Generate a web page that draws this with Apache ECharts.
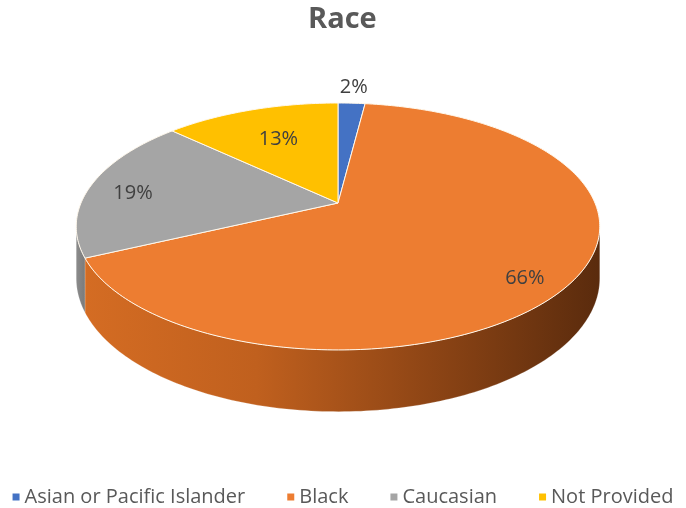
<!DOCTYPE html>
<html>
<head>
<meta charset="utf-8">
<script src="https://cdn.jsdelivr.net/npm/echarts@6/dist/echarts.min.js"></script>
<style>html,body{margin:0;padding:0;background:#fff}#c{width:686px;height:508px}</style>
</head>
<body>
<div id="c"></div>
<script>
// ---- data ----
const categories = ['Asian or Pacific Islander', 'Black', 'Caucasian', 'Not Provided'];
const values = [2, 66, 19, 13];
const labels = ['2%', '66%', '19%', '13%'];

// ---- style / geometry config ----
const topColors = ['#4472C4', '#ED7D31', '#A5A5A5', '#FFC000'];
const sideColors = [
  ['#2F5597', '#2A4A80'],
  ['#D46C23', '#C0601E', '#8E4515', '#5A2B0D'],
  ['#8C8C8C', '#7A7A7A'],
  ['#C89600', '#B08400']
];
const labelR = [1.2, 0.86, 0.815, 0.65];
const labelShift = [0, 5, -3, 0];
const CX = 338, CY = 203, RA = 257, RB = 119, K = 0.19, H = 50;

function proj(r, deg, dz) {
  const t = deg * Math.PI / 180;
  const u = r * Math.sin(t);
  const v = -r * Math.cos(t);
  const f = 1 / (1 - K * v);
  return [CX + RA * u * f, CY + RB * v * f + dz * f];
}
const total = values.reduce((a, b) => a + b, 0);
const starts = [];
{ let acc = 0; values.forEach(v => { starts.push(acc / total * 360); acc += v; }); }

const visA = 180 - Math.acos(K) * 180 / Math.PI;
const visB = 180 + Math.acos(K) * 180 / Math.PI;

function arc(r, a, b, dz) {
  const pts = [];
  const n = Math.max(2, Math.ceil(Math.abs(b - a)));
  for (let i = 0; i <= n; i++) pts.push(proj(r, a + (b - a) * i / n, dz));
  return pts;
}

function makeRender(idx) {
  return function (params, api) {
    const s = starts[idx];
    const e = s + values[idx] / total * 360;
    const children = [];
    const a = Math.max(s, visA), b = Math.min(e, visB);
    if (b > a) {
      const topArc = arc(1, a, b, 0);
      const botArc = arc(1, b, a, H);
      const cs = sideColors[idx];
      children.push({
        type: 'polygon',
        shape: { points: topArc.concat(botArc) },
        style: {
          fill: {
            type: 'linear', x: 0, y: 0, x2: 1, y2: 0,
            colorStops: cs.map((c, i) => ({ offset: i / (cs.length - 1), color: c }))
          },
          stroke: 'rgba(255,255,255,0.35)', lineWidth: 0.6
        },
        z2: 1
      });
    }
    const pts = [proj(0, s, 0)].concat(arc(1, s, e, 0));
    children.push({
      type: 'polygon',
      shape: { points: pts },
      style: { fill: topColors[idx], stroke: '#FFF8EC', lineWidth: 1, lineJoin: 'round' },
      z2: 2
    });
    const mid = (s + e) / 2 + labelShift[idx];
    const lp = proj(labelR[idx], mid, 0);
    children.push({
      type: 'text',
      x: lp[0], y: lp[1],
      style: {
        text: labels[idx], fill: '#404040', fontSize: 20,
        fontFamily: 'Open Sans', align: 'center', verticalAlign: 'middle'
      },
      z2: 3
    });
    return { type: 'group', children: children };
  };
}

const chart = echarts.init(document.getElementById('c'), null, { renderer: 'canvas' });
chart.setOption({
  animation: false,
  title: {
    text: 'Race', left: 303, top: 0,
    textStyle: { fontFamily: 'Open Sans', fontSize: 29, fontWeight: 'bold', color: '#595959' }
  },
  legend: {
    data: categories, left: 'center', top: 482, icon: 'rect',
    itemWidth: 7, itemHeight: 7, itemGap: 42,
    textStyle: { fontFamily: 'Open Sans', fontSize: 20, color: '#595959' }
  },
  series: categories.map((name, i) => ({
    type: 'custom', name: name, coordinateSystem: 'none',
    itemStyle: { color: topColors[i] },
    data: [[i]],
    renderItem: makeRender(i)
  }))
});
</script>
</body>
</html>
